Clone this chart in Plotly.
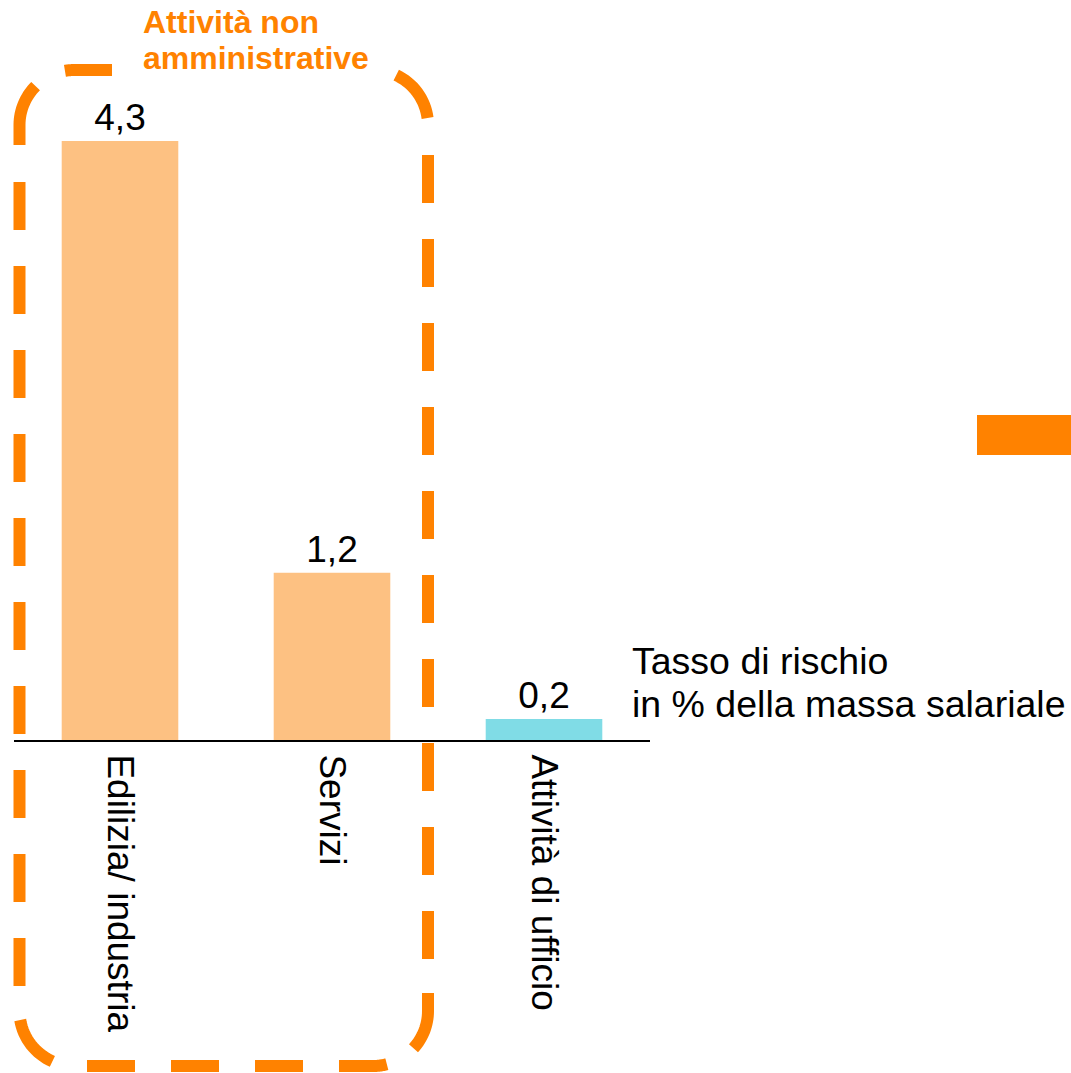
import math
import plotly.graph_objects as go

categories = ["Edilizia/ industria", "Servizi", "Attività di ufficio"]
values = [4.3, 1.2, 0.15]
value_labels = ["4,3", "1,2", "0,2"]
bar_colors = ["#FDC182", "#FDC182", "#80DCE6"]
group_title = ["Attività non", "amministrative"]
axis_note = ["Tasso di rischio", "in % della massa salariale"]

W, H = 1071, 1073
PLOT_L, PLOT_R, PLOT_T, PLOT_B = 14, 650, 0, 740   # screen px
ML, MT = PLOT_L, PLOT_T
PW, PH = PLOT_R - PLOT_L, PLOT_B - PLOT_T
MR, MB = W - ML - PW, H - MT - PH
ORANGE = "#FF8200"
FONT = "Liberation Sans, Arial, sans-serif"
UNIT_PX = 599 / 4.3


def px(x):
    return (x - PLOT_L) / PW


def py(y):
    return (PLOT_B - y) / PH


def P(x, y):
    return f"{px(x):.5f},{py(y):.5f}"


fig = go.Figure(
    go.Bar(
        x=categories,
        y=values,
        marker=dict(color=bar_colors, line=dict(width=0)),
        text=value_labels,
        textposition="outside",
        textfont=dict(size=37, color="black", family=FONT),
        cliponaxis=False,
        hoverinfo="skip",
    )
)

# ---- dashed rounded frame around the non-administrative group ----
L, R, T, B, r = 19.5, 428.0, 70.0, 1066.0, 55.0
LW = 12


def arc_pts(cx, cy, a0, a1, n=16):
    pts = []
    for i in range(n + 1):
        a = math.radians(a0 + (a1 - a0) * i / n)
        pts.append((cx + r * math.cos(a), cy + r * math.sin(a)))
    return pts


def poly(pts):
    return "M " + " L ".join(P(x, y) for x, y in pts)


def seg(pts, dash="solid"):
    return dict(type="path", xref="paper", yref="paper", path=poly(pts),
                line=dict(color=ORANGE, width=LW, dash=dash),
                fillcolor="rgba(0,0,0,0)", layer="above")


DASH = "48px,36px"
shapes = [
    seg([(L, 182), (L, 986)], DASH),
    seg([(R, 959), (R, 155)], DASH),
    seg([(87, B), (R - r, B)] + arc_pts(R - r, B - r, 90, 75.4), DASH),
    seg([(112, T), (L + r, T)] + arc_pts(L + r, T + r, -90, -100)),
    seg(arc_pts(L + r, T + r, -135, -180) + [(L, 145)]),
    seg(arc_pts(R - r, T + r, -7.3, -65)),
    seg(arc_pts(R - r, B - r, 42.6, 0) + [(R, 993)]),
    seg(arc_pts(L + r, B - r, 170.6, 113.7)),
    dict(type="rect", xref="paper", yref="paper",
         x0=px(977), x1=px(1071), y0=py(415), y1=py(455),
         fillcolor=ORANGE, line=dict(width=0), layer="above"),
]

annotations = [
    dict(text=f"<b>{group_title[0]}</b>", xref="paper", yref="paper",
         x=px(141), y=py(22), xanchor="left", yanchor="middle", showarrow=False,
         font=dict(size=32, color=ORANGE, family=FONT)),
    dict(text=f"<b>{group_title[1]}</b>", xref="paper", yref="paper",
         x=px(141), y=py(58), xanchor="left", yanchor="middle", showarrow=False,
         font=dict(size=32, color=ORANGE, family=FONT)),
    dict(text=axis_note[0], xref="paper", yref="paper",
         x=px(630), y=py(661), xanchor="left", yanchor="middle", showarrow=False,
         font=dict(size=37.5, color="black", family=FONT)),
    dict(text=axis_note[1], xref="paper", yref="paper",
         x=px(630), y=py(704), xanchor="left", yanchor="middle", showarrow=False,
         font=dict(size=37.5, color="black", family=FONT)),
]

fig.update_layout(
    width=W, height=H,
    margin=dict(l=ML, r=MR, t=MT, b=MB, autoexpand=False),
    plot_bgcolor="white", paper_bgcolor="white",
    bargap=0.45, showlegend=False,
    shapes=shapes, annotations=annotations,
    xaxis=dict(showline=True, linecolor="black", linewidth=2,
               showgrid=False, zeroline=False, ticks="",
               tickangle=90, ticklabelstandoff=5,
               tickfont=dict(size=37, color="black", family=FONT),
               range=[-0.5, 2.5], fixedrange=True),
    yaxis=dict(visible=False, range=[0, PH / UNIT_PX], fixedrange=True),
)

fig.write_html(
    "out.html",
    config={"displayModeBar": False, "staticPlot": True},
    post_script="document.body.style.margin='0';document.body.style.overflow='hidden';",
)
